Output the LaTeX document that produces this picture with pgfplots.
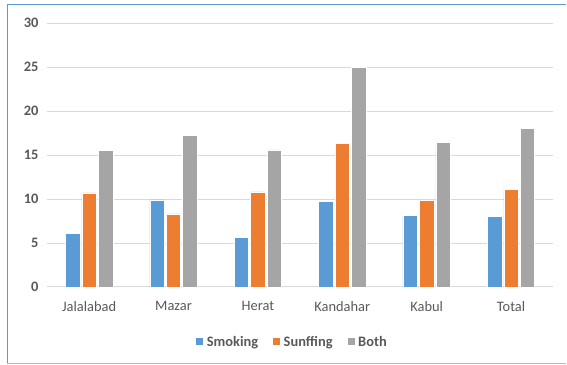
\documentclass[border=0pt]{standalone}
\usepackage{pgfplots}
\pgfplotsset{compat=1.18}
\usepackage{fontspec}
\setmainfont{Carlito}
\definecolor{cSmoke}{HTML}{5B9BD5}
\definecolor{cSnuff}{HTML}{ED7D31}
\definecolor{cBoth}{HTML}{A5A5A5}
\definecolor{cText}{HTML}{595959}
\definecolor{cGrid}{HTML}{D9D9D9}
\definecolor{cFrame}{HTML}{5B9BD5}
\definecolor{cFrameB}{HTML}{9DC3E6}
\begin{document}
\begin{tikzpicture}[x=1bp,y=1bp]
% page extent and chart frame (open on the right)
\path (0,0) rectangle (567,365);
\draw[cFrame, line width=1.6bp] (567,360.5) -- (7.5,360.5) -- (7.5,1);
\draw[cFrameB, line width=1.6bp] (7.5,1) -- (567,1);
\begin{axis}[
  at={(47bp,77.7bp)}, anchor=south west,
  scale only axis, width=507bp, height=264bp,
  ybar, bar width=14.5bp,
  ymin=0, ymax=30, ytick={0,5,...,30},
  xmin=-0.5, xmax=5.5,
  xtick=data,
  xticklabels={Jalalabad,Mazar,Herat,Kandahar,Kabul,Total},
  axis x line*=bottom, axis y line*=left,
  x axis line style={cGrid, line width=0.9bp, -},
  y axis line style={draw=none},
  major tick length=0pt,
  ymajorgrids, grid style={cGrid, line width=0.9bp},
  yticklabel style={font=\bfseries\fontsize{14.5}{16}\selectfont, text=cText, xshift=-5bp},
  xticklabel style={font=\fontsize{14.5}{16}\selectfont, text=cText, yshift=-11bp},
  /pgf/number format/assume math mode=true,
  legend style={at={(0.484,-0.21)}, anchor=center, draw=none, fill=none,
    legend columns=3, font=\bfseries\fontsize{14.5}{16}\selectfont, text=cText,
    /tikz/every odd column/.append style={column sep=1bp},
    /tikz/every even column/.append style={column sep=12bp}},
  legend image code/.code={\fill[#1] (0bp,-3bp) rectangle (8bp,4.5bp);},
]
\addplot[fill=cSmoke, draw=white, line width=0.6bp] coordinates {(0,6.1) (1,9.9) (2,5.6) (3,9.7) (4,8.1) (5,8.0)};
\addplot[fill=cSnuff, draw=white, line width=0.6bp] coordinates {(0,10.7) (1,8.3) (2,10.8) (3,16.3) (4,9.8) (5,11.1)};
\addplot[fill=cBoth, draw=white, line width=0.6bp] coordinates {(0,15.5) (1,17.2) (2,15.6) (3,25.0) (4,16.4) (5,18.0)};
\legend{Smoking,Sunffing,Both}
\end{axis}
\end{tikzpicture}
\end{document}
